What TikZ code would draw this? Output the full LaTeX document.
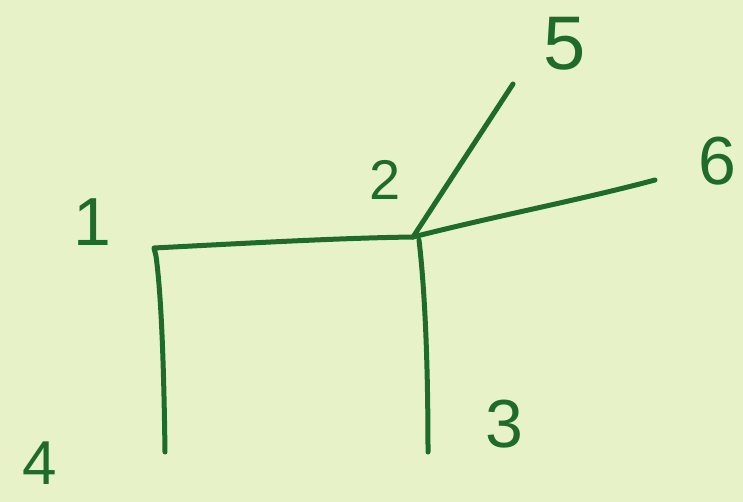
\documentclass[tikz,border=0pt]{standalone}
\usepackage{fontspec}
\setmainfont{Liberation Sans}
\definecolor{bg}{HTML}{E7F2C9}
\definecolor{ink}{HTML}{1E6B2C}
\begin{document}
\begin{tikzpicture}[x=1pt,y=-1pt,
  edge/.style={draw=ink,line width=5pt,line cap=round,line join=round},
  lab/.style={text=ink,inner sep=0pt,font=\fontsize{#1}{#1}\selectfont},
  lab/.default=68]
\fill[bg] (0,0) rectangle (743,502);
\useasboundingbox (0,0) rectangle (743,502);
\coordinate (v1) at (154,248);
\coordinate (v2) at (413,237);
\coordinate (v3) at (428,452);
\coordinate (v4) at (165,452);
\coordinate (v5) at (513,84);
\coordinate (v6) at (655,180);
\coordinate (v2b) at (419,240);
\node[lab] (l1) at (92,222) {1};
\node[lab=56] (l2) at (385,180) {2};
\node[lab] (l3) at (504,424) {3};
\node[lab=62] (l4) at (40,463) {4};
\node[lab=76] (l5) at (565,44) {5};
\node[lab] (l6) at (717,161) {6};
\draw[edge] (v4) .. controls (164,380) and (162,300) .. (156,256) -- (v1)
  .. controls (250,243) and (340,238) .. (v2);
\draw[edge] (v2) -- (v5);
\draw[edge] (v2) .. controls (500,215) and (580,200) .. (v6);
\draw[edge] (v2b) .. controls (426,300) and (428,380) .. (v3);
\end{tikzpicture}
\end{document}
